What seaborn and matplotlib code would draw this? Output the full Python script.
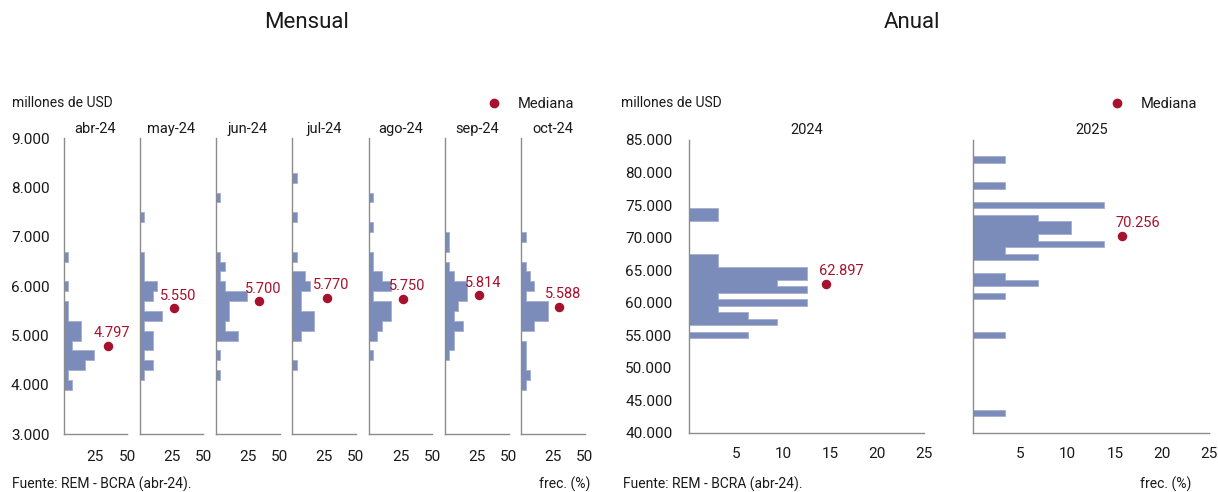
import matplotlib
matplotlib.use('Agg')
import matplotlib.pyplot as plt
from matplotlib.ticker import FuncFormatter
from matplotlib.lines import Line2D
import seaborn as sns
import pandas as pd
import numpy as np

# --- datos mensuales (centro de intervalo en millones de USD, frecuencia en %) ---
meses = ['abr-24', 'may-24', 'jun-24', 'jul-24', 'ago-24', 'sep-24', 'oct-24']

abr_valores = [6600, 6000, 5600, 5400, 5200, 5000, 4800, 4600, 4400, 4200, 4000]
abr_frec = [3.4, 3.4, 3.4, 3.4, 13.8, 13.8, 6.9, 24.1, 17.2, 3.4, 6.9]
may_valores = [7400, 6600, 6400, 6200, 6000, 5800, 5600, 5400, 5200, 5000, 4800, 4600, 4400, 4200]
may_frec = [3.4, 3.4, 3.4, 3.4, 13.8, 10.3, 3.4, 17.2, 3.4, 10.3, 10.3, 3.4, 10.3, 3.4]
jun_valores = [7800, 6600, 6400, 6200, 6000, 5800, 5600, 5400, 5200, 5000, 4600, 4200]
jun_frec = [3.4, 3.4, 6.9, 3.4, 6.9, 24.1, 10.3, 10.3, 6.9, 17.2, 3.4, 3.4]
jul_valores = [8200, 7400, 6600, 6200, 6000, 5800, 5600, 5400, 5200, 5000, 4400]
jul_frec = [3.4, 3.4, 3.4, 10.3, 13.8, 6.9, 6.9, 17.2, 17.2, 6.9, 3.4]
ago_valores = [7800, 7200, 6600, 6400, 6200, 6000, 5800, 5600, 5400, 5200, 5000, 4600]
ago_frec = [3.4, 3.4, 3.4, 3.4, 10.3, 17.2, 3.4, 17.2, 17.2, 10.3, 6.9, 3.4]
sep_valores = [7000, 6800, 6400, 6200, 6000, 5800, 5600, 5400, 5200, 5000, 4800, 4600]
sep_frec = [3.4, 3.4, 3.4, 6.9, 17.2, 17.2, 10.3, 6.9, 13.8, 6.9, 6.9, 3.4]
oct_valores = [7000, 6400, 6200, 6000, 5800, 5600, 5400, 5200, 4800, 4600, 4400, 4200, 4000]
oct_frec = [3.4, 3.4, 6.9, 10.3, 3.4, 20.7, 20.7, 10.3, 3.4, 3.4, 3.4, 6.9, 3.4]

medianas_mes = [4797, 5550, 5700, 5770, 5750, 5814, 5588]
medianas_mes_x = [35, 27, 34, 27, 27, 27, 30]

# --- datos anuales ---
anios = ['2024', '2025']
a2024_valores = [74000, 73000, 67000, 66000, 65000, 64000, 63000, 62000, 61000, 60000,
                 59000, 58000, 57000, 55000]
a2024_frec = [3.1, 3.1, 3.1, 3.1, 12.5, 12.5, 9.4, 12.5, 3.1, 12.5, 3.1, 6.3, 9.4, 6.3]
a2025_valores = [82000, 78000, 75000, 73000, 72000, 71000, 70000, 69000, 68000, 67000,
                 64000, 63000, 61000, 55000, 43000]
a2025_frec = [3.4, 3.4, 13.8, 6.9, 10.3, 10.3, 6.9, 13.8, 3.4, 6.9, 3.4, 6.9, 3.4, 3.4, 3.4]

medianas_anio = [62897, 70256]
medianas_anio_x = [14.6, 15.8]

valores_mes = [abr_valores, may_valores, jun_valores, jul_valores, ago_valores, sep_valores, oct_valores]
frec_mes = [abr_frec, may_frec, jun_frec, jul_frec, ago_frec, sep_frec, oct_frec]
valores_anio = [a2024_valores, a2025_valores]
frec_anio = [a2024_frec, a2025_frec]

AZUL = '#7b8cba'
BORDE = '#a3aed0'
ROJO = '#a6122d'
TEXTO = '#1a1a1a'
GRIS = '#8c8c8c'

sns.set_style('white')
plt.rcParams['font.family'] = ['Roboto', 'DejaVu Sans']
plt.rcParams['text.color'] = TEXTO

W, H = 1218, 492
fig = plt.figure(figsize=(W / 100, H / 100), dpi=100)


def caja(l, t, r, b):
    return [l / W, 1 - b / H, (r - l) / W, (b - t) / H]


def miles(v, pos):
    return f'{int(round(v)):,}'.replace(',', '.')


def estilo(ax, ypad, xpad):
    for s in ['top', 'right']:
        ax.spines[s].set_visible(False)
    for s in ['left', 'bottom']:
        ax.spines[s].set_color(GRIS)
        ax.spines[s].set_linewidth(1.0)
    ax.tick_params(axis='both', direction='in', length=3, width=0.8, color='#333333',
                   labelsize=11, labelcolor=TEXTO)
    ax.tick_params(axis='y', pad=ypad)
    ax.tick_params(axis='x', pad=xpad)
    ax.set_xlabel('')
    ax.set_ylabel('')


# paneles mensuales
izq0, paso, ancho = 63.5, 76.3, 63.5
for i, mes in enumerate(meses):
    l = izq0 + i * paso
    ax = fig.add_axes(caja(l, 138.3, l + ancho, 434.3))
    df = pd.DataFrame({'valor': valores_mes[i], 'frec': frec_mes[i]})
    sns.histplot(data=df, y='valor', weights='frec', binwidth=200, binrange=(2900, 9100),
                 element='step', color=AZUL, alpha=1, edgecolor=BORDE, linewidth=0.6, ax=ax)
    ax.scatter([medianas_mes_x[i]], [medianas_mes[i]], s=34, color=ROJO, zorder=5)
    ax.annotate(miles(medianas_mes[i], None), (medianas_mes_x[i], medianas_mes[i]),
                xytext=(3, 4), textcoords='offset points', ha='center', va='bottom',
                color=ROJO, fontsize=10.5, zorder=6)
    ax.set_xlim(0, 50)
    ax.set_ylim(3000, 9000)
    ax.set_xticks([25, 50])
    ax.set_yticks(np.arange(3000, 9001, 1000))
    estilo(ax, 10, 11)
    if i == 0:
        ax.yaxis.set_major_formatter(FuncFormatter(miles))
    else:
        ax.set_yticklabels([])
    ax.set_title(mes, fontsize=10.5, color=TEXTO, pad=4)

# paneles anuales
posiciones = [(689, 924.3), (973.3, 1209.3)]
for i, anio in enumerate(anios):
    l, r = posiciones[i]
    ax = fig.add_axes(caja(l, 140, r, 432.7))
    df = pd.DataFrame({'valor': valores_anio[i], 'frec': frec_anio[i]})
    sns.histplot(data=df, y='valor', weights='frec', binwidth=1000, binrange=(39500, 85500),
                 element='step', color=AZUL, alpha=1, edgecolor=BORDE, linewidth=0.6, ax=ax)
    ax.scatter([medianas_anio_x[i]], [medianas_anio[i]], s=34, color=ROJO, zorder=5)
    ax.annotate(miles(medianas_anio[i], None), (medianas_anio_x[i], medianas_anio[i]),
                xytext=(11, 4), textcoords='offset points', ha='center', va='bottom',
                color=ROJO, fontsize=10.5, zorder=6)
    ax.set_xlim(0, 25)
    ax.set_ylim(40000, 85000)
    ax.set_xticks([5, 10, 15, 20, 25])
    ax.set_yticks(np.arange(40000, 85001, 5000))
    estilo(ax, 12, 10)
    if i == 0:
        ax.yaxis.set_major_formatter(FuncFormatter(miles))
    else:
        ax.set_yticklabels([])
    ax.set_title(anio, fontsize=10.5, color=TEXTO, pad=4)

# textos
fig.text(307 / W, 1 - 22 / H, 'Mensual', ha='center', va='center', fontsize=16)
fig.text(912 / W, 1 - 22 / H, 'Anual', ha='center', va='center', fontsize=16)
fig.text(12 / W, 1 - 103 / H, 'millones de USD', ha='left', va='center', fontsize=10)
fig.text(621 / W, 1 - 103 / H, 'millones de USD', ha='left', va='center', fontsize=10)
fig.text(12 / W, 1 - 484 / H, 'Fuente: REM - BCRA (abr-24).', ha='left', va='center', fontsize=10)
fig.text(623 / W, 1 - 484 / H, 'Fuente: REM - BCRA (abr-24).', ha='left', va='center', fontsize=10)
fig.text(590 / W, 1 - 484 / H, 'frec. (%)', ha='right', va='center', fontsize=10)
fig.text(1191 / W, 1 - 484 / H, 'frec. (%)', ha='right', va='center', fontsize=10)

marca = Line2D([], [], marker='o', linestyle='none', color=ROJO, markersize=6)
for cx in [527, 1150]:
    fig.legend([marca], ['Mediana'], loc='center', bbox_to_anchor=(cx / W, 1 - 104 / H),
               frameon=False, fontsize=10.5, handletextpad=0.6, borderaxespad=0,
               borderpad=0)

fig.savefig('out.png', dpi=100)
